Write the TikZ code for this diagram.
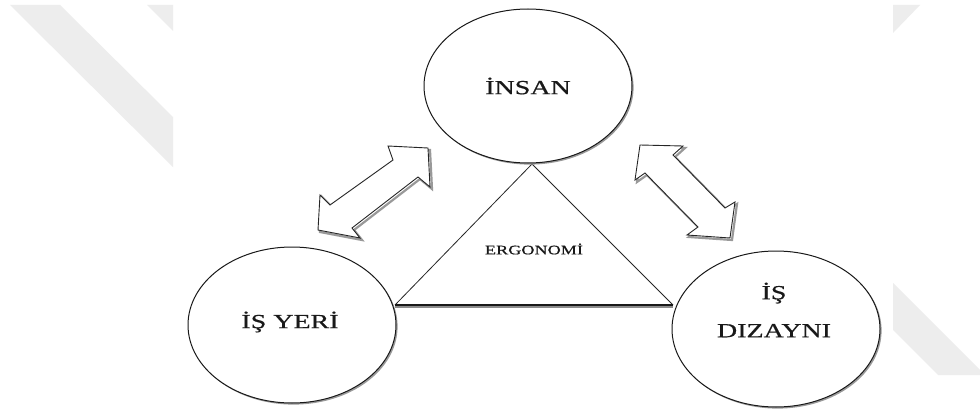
\documentclass[tikz,border=0pt]{standalone}
\usepackage{fontspec}
\setmainfont{Liberation Serif}
\newfontfamily\widefont[FakeStretch=1.4,FakeBold=0.6]{Liberation Serif}
\usetikzlibrary{shapes.geometric}
\begin{document}
\begin{tikzpicture}[x=1pt,y=-1pt,
  wm/.style={fill=black!7, draw=none},
  oval/.style={ellipse, draw=black!90, line width=1pt, fill=white, inner sep=0pt,
    minimum width=208pt, minimum height=154pt},
  lbl/.style={font=\widefont\fontsize{20}{38}\selectfont, align=center, inner sep=0pt, text=black!90},
  smalllbl/.style={font=\widefont\fontsize{13}{15}\selectfont, inner sep=0pt, text=black!90},
  shad/.style={draw=black!40, line width=2.2pt},
  blockarrow/.style={draw=black!85, line width=0.9pt, fill=white, line join=miter},
  edge/.style={draw=black!85, line width=0.8pt}
]
\useasboundingbox (0,0) rectangle (980,412);
\fill[white] (0,0) rectangle (980,412);
% watermark bands
\fill[wm] (10,5) -- (60,5) -- (173,117) -- (173,167) -- cycle;
\fill[wm] (147,5) -- (173,5) -- (173,31) -- cycle;
\fill[wm] (893,5) -- (920,5) -- (893,33) -- cycle;
\fill[wm] (893,283) -- (980,370) -- (980,375) -- (938,375) -- (893,330) -- cycle;

% triangle
\coordinate (apex) at (532,164);
\coordinate (bl) at (395,305);
\coordinate (br) at (673,305);
\draw[edge] (bl) -- (apex) -- (br);
\draw[black!45, line width=2.4pt] ([yshift=-1.4pt]bl) -- ([yshift=-1.4pt]br);
\draw[black!90, line width=1.8pt] (bl) -- (br);
\node[smalllbl] (ergo) at (534,249) {ERGONOMİ};

% ellipse shadows
\draw[shad] (529.5,87.5) ellipse [x radius=103pt, y radius=76pt];
\draw[shad] (293.5,326.5) ellipse [x radius=103pt, y radius=77pt];
\draw[shad] (777.5,330.5) ellipse [x radius=103pt, y radius=77pt];

% ellipses
\node[oval] (insan) at (528,86) {};
\node[oval, minimum height=156pt] (isyeri) at (292,325) {};
\node[oval, minimum height=156pt] (isdiz) at (776,329) {};
\node[lbl] (insantext) at (insan) {İNSAN};
\node[lbl] (isyeritext) at (290,322) {İŞ YERİ};
\node[lbl] (isdiztext) at (774,310) {İŞ\\DIZAYNI};

% block arrows: shadows
\begin{scope}[shift={(2,2)}]
\draw[shad] (428,148) -- (388,146) -- (393,160) -- (330,205) -- (320,195) -- (318,230) -- (360,238) -- (352,228) -- (418,177) -- (430,187) -- cycle;
\draw[shad] (640,145) -- (683,146) -- (673,155) -- (725,208) -- (735,202) -- (730,238) -- (687,235) -- (698,227) -- (645,173) -- (635,180) -- cycle;
\end{scope}
% block arrows
\draw[blockarrow] (428,148) -- (388,146) -- (393,160) -- (330,205) -- (320,195) -- (318,230) -- (360,238) -- (352,228) -- (418,177) -- (430,187) -- cycle;
\draw[blockarrow] (640,145) -- (683,146) -- (673,155) -- (725,208) -- (735,202) -- (730,238) -- (687,235) -- (698,227) -- (645,173) -- (635,180) -- cycle;
\end{tikzpicture}
\end{document}
